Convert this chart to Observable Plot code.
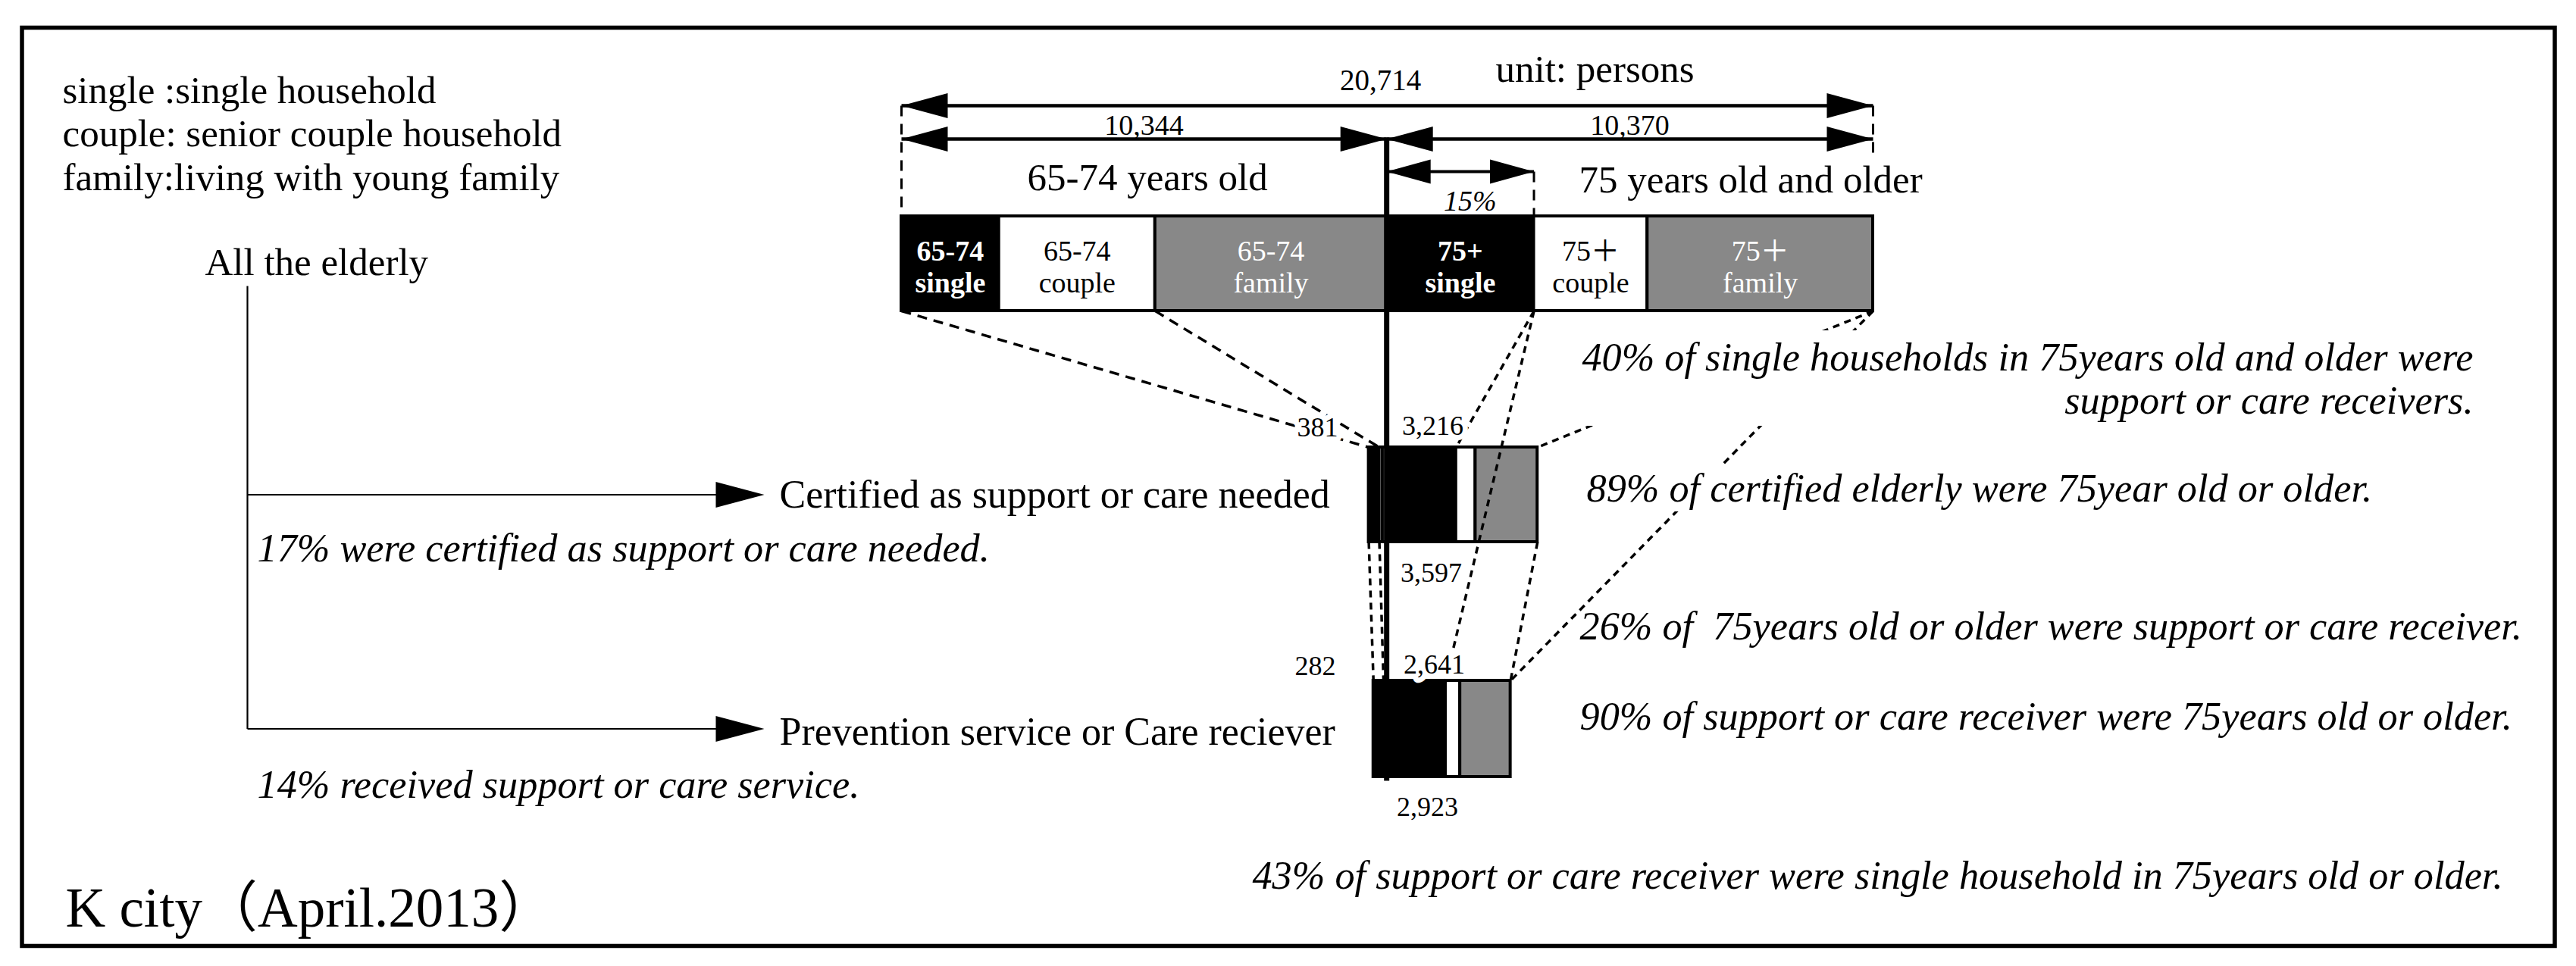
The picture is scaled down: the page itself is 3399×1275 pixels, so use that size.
<!DOCTYPE html>
<html><head><meta charset="utf-8">
<script src="https://cdn.jsdelivr.net/npm/d3@7"></script>
<script src="https://cdn.jsdelivr.net/npm/@observablehq/plot@0.6"></script>
<style>body{margin:0;background:#fff}</style>
</head><body><div id="chart"></div>
<script>
// ---------------- DATA ----------------
const households = ["single", "couple", "family"];
const ageGroups = ["65-74", "75+"];
// all the elderly (persons)
const allYoung = [2080, 3330, 4934];   // 65-74 : sum 10,344
const allOld   = [3140, 2420, 4810];   // 75+   : sum 10,370
// certified as support or care needed
const certYoung = [225, 70, 86];       // 381
const certOld   = [1480, 414, 1322];   // 3,216
// prevention service or care receivers
const recvYoung = [215, 17, 50];       // 282
const recvOld   = [1257, 310, 1074];   // 2,641
const barAgeLabels = ["65-74", "65-74", "65-74", "75+", "75＋", "75＋"];
const legendLines = ["single :single household", "couple: senior couple household", "family:living with young family"];
const rightNotes = [
  "40% of single households in 75years old and older were",
  "support or care receivers.",
  "89% of certified elderly were 75year old or older.",
  "26% of \u00a075years old or older were support or care receiver.",
  "90% of support or care receiver were 75years old or older.",
  "43% of support or care receiver were single household in 75years old or older."
];
const leftNotes = ["17% were certified as support or care needed.", "14% received support or care service."];

// ---------------- LAYOUT ----------------
const W = 3399, H = 1275;
const X0 = 1189, X1 = 2471;
const ROW = {all: [285, 410], cert: [590, 715], recv: [898, 1025]};
const DIM = {total: 139, half: 183, pct: 226};
const serif = "'Liberation Serif','Times New Roman',serif";
const cjkSerif = "'Liberation Serif','Noto Sans CJK JP',serif";
const ITAL = 52.3;

const fmt = d3.format(",");
const split = d3.sum(allYoung);
const totalAll = split + d3.sum(allOld);
const pxScale = d3.scaleLinear([0, totalAll], [X0, X1]);
const xv = p => pxScale.invert(p);
const rowMid = l => (ROW[l][0] + ROW[l][1]) / 2;
const rowTop = l => ROW[l][0];
const rowBot = l => ROW[l][1];

function buildLevel(level, young, old) {
  const out = [];
  let c = split - d3.sum(young);
  young.forEach((v, i) => { out.push({level, age: ageGroups[0], household: households[i], value: v, x1: c, x2: c + v, idx: i}); c += v; });
  c = split;
  old.forEach((v, i) => { out.push({level, age: ageGroups[1], household: households[i], value: v, x1: c, x2: c + v, idx: 3 + i}); c += v; });
  return out;
}
const LV = {all: buildLevel("all", allYoung, allOld), cert: buildLevel("cert", certYoung, certOld), recv: buildLevel("recv", recvYoung, recvOld)};
const segments = [...LV.all, ...LV.cert, ...LV.recv];
const edgeL = l => LV[l][0].x1;
const edgeR = (l, k) => LV[l][k].x2;

const connectors = [
  {x1: edgeL("all"), y1: rowBot("all"), x2: edgeL("cert"), y2: rowTop("cert"), long: true},
  {x1: edgeR("all", 1), y1: rowBot("all"), x2: edgeR("cert", 0), y2: rowTop("cert"), long: true},
  {x1: edgeR("all", 3), y1: rowBot("all"), x2: edgeR("cert", 3), y2: rowTop("cert")},
  {x1: edgeR("all", 3), y1: rowBot("all"), x2: edgeR("recv", 3), y2: rowTop("recv")},
  {x1: edgeR("all", 5), y1: rowBot("all"), x2: edgeR("cert", 5), y2: rowTop("cert")},
  {x1: edgeR("all", 5), y1: rowBot("all"), x2: edgeR("recv", 5), y2: rowTop("recv")},
  {x1: edgeL("cert"), y1: rowBot("cert"), x2: edgeL("recv"), y2: rowTop("recv")},
  {x1: edgeR("cert", 0), y1: rowBot("cert"), x2: edgeR("recv", 0), y2: rowTop("recv")},
  {x1: edgeR("cert", 5), y1: rowBot("cert"), x2: edgeR("recv", 5), y2: rowTop("recv")}
];

const dims = [
  {x1: 0, x2: totalAll, y: DIM.total, label: fmt(totalAll), ly: 118, dx: -9},
  {x1: 0, x2: split, y: DIM.half, label: fmt(split), ly: 177, dx: 0},
  {x1: split, x2: totalAll, y: DIM.half, label: fmt(totalAll - split), ly: 177, dx: 0}
];
const pctDim = [{x1: split, x2: split + allOld[0], y: DIM.pct, label: d3.format(".0%")(allOld[0] / totalAll), ly: 277, dx: 13}];

const certY = d3.sum(certYoung), certO = d3.sum(certOld), recvY = d3.sum(recvYoung), recvO = d3.sum(recvOld);
const numLabels = [
  {t: fmt(certY), x: 1738, y: 575},
  {t: fmt(certO), x: 1890, y: 573},
  {t: fmt(certY + certO), x: 1888, y: 767},
  {t: fmt(recvY), x: 1735, y: 890},
  {t: fmt(recvO), x: 1892, y: 888},
  {t: fmt(recvY + recvO), x: 1883, y: 1076}
];

function head(len, half, dir) {
  return {draw(ctx) { ctx.moveTo(0, 0); ctx.lineTo(-dir * len, -half); ctx.lineTo(-dir * len, half); ctx.closePath(); }};
}
const fillOf = {single: "#000", couple: "#fff", family: "#888"};
const textOf = {single: "#fff", couple: "#000", family: "#fff"};

function note(t, x, y, o = {}) {
  return Plot.text([t], {x: xv(x), y, text: d => d, lineAnchor: "bottom", textAnchor: o.anchor || "start",
    fontSize: o.size || 51, fontFamily: o.font || serif, fontStyle: o.italic ? "italic" : "normal", fill: "#000"});
}
const whiteBoxes = [
  {x1: 2075, x2: 3275, y1: 436, y2: 562},
  {x1: 2085, x2: 3140, y1: 613, y2: 675},
  {x1: 2075, x2: 2548, y1: 205, y2: 281}
];
const tree = {x: 326, y0: 377, tip: 1008};

const marks = [
  Plot.frame({stroke: "#000", strokeWidth: 5.5, insetLeft: 28.5, insetTop: 36, insetRight: 28.5, insetBottom: 27}),
  // legend
  ...legendLines.map((t, i) => note(t, 82, 135 + i * 57.5, {size: 51})),
  note("All the elderly", 270, 362, {size: 51}),
  // tree
  Plot.link([0], {x1: xv(tree.x), x2: xv(tree.x), y1: tree.y0, y2: rowMid("recv"), stroke: "#000", strokeWidth: 2.2}),
  Plot.link(["cert", "recv"], {x1: xv(tree.x), x2: xv(tree.tip - 20), y1: d => rowMid(d), y2: d => rowMid(d), stroke: "#000", strokeWidth: 2.2}),
  Plot.dot(["cert", "recv"], {x: xv(tree.tip), y: d => rowMid(d), symbol: head(64, 17, 1), fill: "#000", stroke: "none"}),
  note("Certified as support or care needed", 1028, 669, {size: 52}),
  note("Prevention service or Care reciever", 1028, 982, {size: 52}),
  note(leftNotes[0], 339, 740, {size: ITAL, italic: true}),
  note(leftNotes[1], 339, 1052, {size: ITAL, italic: true}),
  // dimension arrows
  Plot.link(dims, {x1: "x1", x2: "x2", y1: "y", y2: "y", stroke: "#000", strokeWidth: 4.5}),
  Plot.dot(dims, {x: "x1", y: "y", symbol: head(61, 16.5, -1), fill: "#000", stroke: "none"}),
  Plot.dot(dims, {x: "x2", y: "y", symbol: head(61, 16.5, 1), fill: "#000", stroke: "none"}),
  Plot.link(pctDim, {x1: "x1", x2: "x2", y1: "y", y2: "y", stroke: "#000", strokeWidth: 4}),
  Plot.dot(pctDim, {x: "x1", y: "y", symbol: head(58, 16, -1), fill: "#000", stroke: "none"}),
  Plot.dot(pctDim, {x: "x2", y: "y", symbol: head(58, 16, 1), fill: "#000", stroke: "none"}),
  Plot.text(dims.slice(0, 1), {x: d => (d.x1 + d.x2) / 2, y: "ly", dx: -9, text: "label", lineAnchor: "bottom", fontSize: 39, fontFamily: serif, fill: "#000"}),
  Plot.text(dims.slice(1), {x: d => (d.x1 + d.x2) / 2, y: "ly", text: "label", lineAnchor: "bottom", fontSize: 38, fontFamily: serif, fill: "#000"}),
  Plot.text(pctDim, {x: d => (d.x1 + d.x2) / 2, y: "ly", dx: 13, text: "label", lineAnchor: "bottom", fontSize: 38, fontFamily: serif, fontStyle: "italic", fill: "#000"}),
  // extension dashes
  Plot.link([0, totalAll], {x1: d => d, x2: d => d, y1: DIM.total, y2: rowTop("all"), stroke: "#000", strokeWidth: 3, strokeDasharray: "14,10"}),
  Plot.link(pctDim, {x1: "x2", x2: "x2", y1: "y", y2: rowTop("all"), stroke: "#000", strokeWidth: 3, strokeDasharray: "14,10"}),
  note("unit: persons", 1973, 107, {size: 51}),
  note("65-74 years old", 1355, 250, {size: 51}),
  Plot.rect(whiteBoxes.slice(2), {x1: d => xv(d.x1), x2: d => xv(d.x2), y1: "y1", y2: "y2", fill: "#fff"}),
  note("75 years old and older", 2083, 253, {size: 51}),
  // bars
  ...households.map(h => Plot.rect(segments.filter(d => d.household === h), {
    x1: "x1", x2: "x2", y1: d => rowTop(d.level), y2: d => rowBot(d.level), fill: fillOf[h], stroke: "#000", strokeWidth: 4})),
  ...households.map(h => Plot.text(LV.all.filter(d => d.household === h), {
    x: d => (d.x1 + d.x2) / 2, y: rowMid("all") + 4, text: d => barAgeLabels[d.idx] + "\n" + d.household,
    lineHeight: 1.1, fontSize: 38, fontFamily: cjkSerif, fontWeight: h === "single" ? "bold" : "normal", fill: textOf[h]})),
  // connectors
  Plot.link(connectors.filter(d => d.long), {x1: "x1", x2: "x2", y1: "y1", y2: "y2", stroke: "#000", strokeWidth: 3.5, strokeDasharray: "13,9"}),
  Plot.link(connectors.filter(d => !d.long), {x1: "x1", x2: "x2", y1: "y1", y2: "y2", stroke: "#000", strokeWidth: 3.5, strokeDasharray: "9,7"}),
  // centre line
  Plot.link([split], {x1: d => d, x2: d => d, y1: DIM.half - 2, y2: rowBot("recv") + 5, stroke: "#000", strokeWidth: 7}),
  // counts
  Plot.text(numLabels, {x: d => xv(d.x), y: "y", text: "t", lineAnchor: "bottom", fontSize: 36, fontFamily: serif,
    fill: "#000", stroke: "#fff", strokeWidth: 14, paintOrder: "stroke"}),
  // right notes
  Plot.rect(whiteBoxes.slice(0, 2), {x1: d => xv(d.x1), x2: d => xv(d.x2), y1: "y1", y2: "y2", fill: "#fff"}),
  note(rightNotes[0], 3263, 488, {italic: true, anchor: "end", size: ITAL}),
  note(rightNotes[1], 3263, 545, {italic: true, anchor: "end", size: ITAL}),
  note(rightNotes[2], 2093, 661, {italic: true, size: ITAL}),
  note(rightNotes[3], 2084, 843, {italic: true, size: ITAL}),
  note(rightNotes[4], 2084, 962, {italic: true, size: ITAL}),
  note(rightNotes[5], 3302, 1172, {italic: true, anchor: "end", size: ITAL}),
  note("K city（April.2013）", 86, 1222, {size: 73, font: cjkSerif})
];

const chart = Plot.plot({
  width: W, height: H, margin: 0,
  x: {domain: [0, totalAll], range: [X0, X1], axis: null},
  y: {domain: [0, H], range: [0, H], axis: null},
  style: {background: "#fff", overflow: "visible"},
  marks
});
document.getElementById("chart").appendChild(chart);
</script>
</body></html>
